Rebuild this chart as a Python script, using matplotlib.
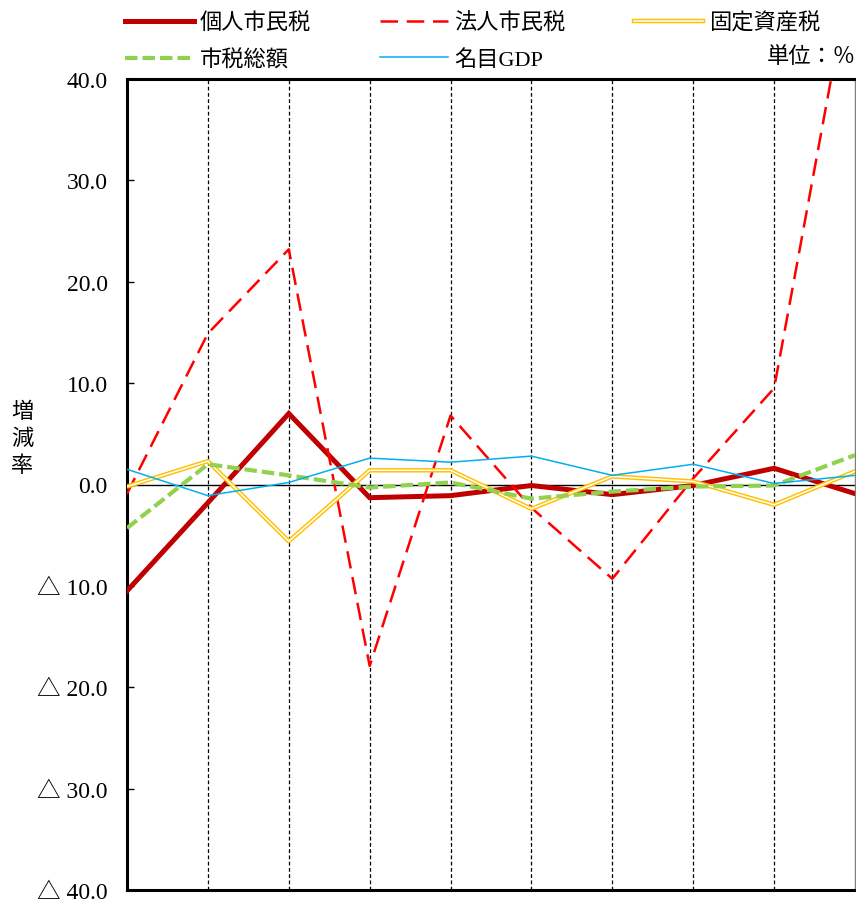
import matplotlib
matplotlib.use("Agg")
import matplotlib.pyplot as plt
from matplotlib.ticker import FuncFormatter

plt.rcParams['font.family'] = ['Liberation Serif', 'Noto Sans CJK JP']

# annual growth rates (%)
years = list(range(10))
kojin = [-10.5, -1.8, 7.0, -1.3, -1.1, -0.1, -1.0, -0.1, 1.6, -0.9]
houjin = [-0.9, 14.9, 23.2, -17.9, 6.8, -2.3, -9.3, 0.6, 9.5, 52.8]
kotei = [-0.2, 2.3, -5.6, 1.4, 1.4, -2.4, 0.8, 0.3, -2.0, 1.3]
zeisou = [-4.3, 2.0, 0.9, -0.3, 0.2, -1.4, -0.7, -0.2, -0.1, 2.9]
gdp = [1.5, -1.1, 0.2, 2.6, 2.2, 2.8, 0.9, 2.0, 0.1, 0.9]

labels = ['個人市民税', '法人市民税', '固定資産税', '市税総額', '名目GDP']
y_ticks = [-40, -30, -20, -10, 0, 10, 20, 30, 40]

W, H = 856, 904
fig = plt.figure(figsize=(W / 100, H / 100), dpi=100)
ax = fig.add_axes([127 / W, 13 / H, (855 - 127) / W, (891 - 80) / H])

ax.set_xlim(0, 9)
ax.set_ylim(-40, 40)

# vertical separators between years
for x in years[1:-1]:
    ax.axvline(x, color='black', lw=0.9, ls=(0, (3, 2)), zorder=1)
ax.axhline(0, color='black', lw=1.0, zorder=1.5)

l1, = ax.plot(years, kojin, color='#C00000', lw=3.6, solid_joinstyle='miter', zorder=3)
l2, = ax.plot(years, houjin, color='#FF0000', lw=1.8, dashes=(7, 3.5), zorder=4)
l3a, = ax.plot(years, kotei, color='#FFC000', lw=3.2, zorder=5)
l3b, = ax.plot(years, kotei, color='white', lw=1.1, zorder=5.1)
l4, = ax.plot(years, zeisou, color='#92D050', lw=3.0, dashes=(3, 1.2), zorder=6)
l5, = ax.plot(years, gdp, color='#00B0F0', lw=1.1, zorder=7)

for side in ('left', 'bottom', 'top'):
    ax.spines[side].set_linewidth(2.2)
    ax.spines[side].set_color('black')
ax.spines['right'].set_linewidth(1.0)
ax.spines['right'].set_color('#7f7f7f')

ax.set_xticks([])
ax.set_yticks(y_ticks)
ax.yaxis.set_major_formatter(FuncFormatter(
    lambda v, p: f'{v:.1f}' if v >= 0 else f'△ {abs(v):.1f}'))
ax.tick_params(axis='y', direction='in', length=5, width=1.0, pad=14,
               labelsize=17, colors='black')

fig.text(22 / W, 1 - 440 / H, '増\n減\n率', ha='center', va='center',
         fontsize=16, linespacing=1.42)
fig.text(856 / W, 1 - 58 / H, '単位：％', ha='right', va='center', fontsize=16)

handles = [l1, l4, l2, l5, (l3a, l3b)]
hlabels = [labels[0], labels[3], labels[1], labels[4], labels[2]]
fig.legend(handles, hlabels, loc='upper left', bbox_to_anchor=(125 / W, 1 - 13 / H),
           ncol=3, frameon=False, fontsize=16, handlelength=3.1,
           handletextpad=0.25, columnspacing=3.1, borderpad=0,
           borderaxespad=0, labelspacing=0.72)

fig.savefig('out.png', dpi=100)
